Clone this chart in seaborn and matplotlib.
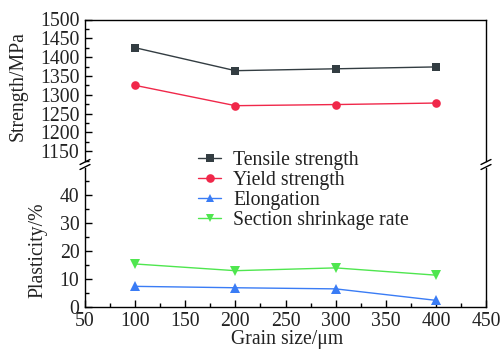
import numpy as np
import pandas as pd
import seaborn as sns
import matplotlib
matplotlib.use("Agg")
import matplotlib.pyplot as plt
from matplotlib.lines import Line2D
from matplotlib.ticker import MultipleLocator

grain_size = [100, 200, 300, 400]
tensile = [1425, 1364, 1369, 1374]
yield_s = [1325, 1271, 1274, 1278]
elongation = [7.2, 6.7, 6.3, 2.2]
shrinkage = [15.2, 12.8, 13.8, 11.2]

labels = ["Tensile strength", "Yield strength", "Elongation", "Section shrinkage rate"]
colors = ["#333d42", "#f0284a", "#3a7cf5", "#4fe64f"]
markers = ["s", "o", "^", "v"]

sns.set_theme(style="white")
plt.rcParams["font.family"] = ["Liberation Serif", "DejaVu Serif"]

W, H = 503, 349
fig = plt.figure(figsize=(W / 100, H / 100), dpi=100)

def fx(px):
    return px / W

def fy(py):
    return 1 - py / H

left, right = 85, 486
top_top, top_bot = 19.5, 161
bot_top, bot_bot = 168, 306.5
FS = 14.2

ax1 = fig.add_axes([fx(left), fy(top_bot), fx(right - left), (top_bot - top_top) / H])
ax2 = fig.add_axes([fx(left), fy(bot_bot), fx(right - left), (bot_bot - bot_top) / H])

top_df = pd.DataFrame({"x": grain_size * 2, "y": tensile + yield_s,
                       "s": [labels[0]] * 4 + [labels[1]] * 4})
bot_df = pd.DataFrame({"x": grain_size * 2, "y": elongation + shrinkage,
                       "s": [labels[2]] * 4 + [labels[3]] * 4})

sns.lineplot(data=top_df, x="x", y="y", hue="s", style="s",
             palette=colors[:2], markers=markers[:2], dashes=False,
             markersize=6.2, markeredgewidth=0, linewidth=1.0, ax=ax1, legend=False)
sns.lineplot(data=bot_df, x="x", y="y", hue="s", style="s",
             palette=colors[2:], markers=markers[2:], dashes=False,
             markersize=6.8, markeredgewidth=0, linewidth=1.0, ax=ax2, legend=False)

for ax in (ax1, ax2):
    ax.set_xlim(50, 450)
    ax.set_xlabel("")
    ax.set_ylabel("")
    for sp in ax.spines.values():
        sp.set_color("black")
        sp.set_linewidth(1.0)
    ax.xaxis.set_major_locator(MultipleLocator(50))
    ax.xaxis.set_minor_locator(MultipleLocator(25))
    ax.tick_params(axis="both", which="both", direction="in", color="black",
                   labelsize=FS, labelcolor="#222222")
    ax.tick_params(which="major", length=5, width=1.0, left=True, bottom=True)
    ax.tick_params(which="minor", length=3, width=1.0, left=True, bottom=True)
    ax.tick_params(axis="y", pad=4)
    ax.tick_params(axis="x", pad=4)

ax1.set_ylim(1124, 1500)
ax1.yaxis.set_minor_locator(MultipleLocator(25))
ax1.set_yticks([1150, 1200, 1250, 1300, 1350, 1400, 1450, 1500])
ax1.spines["bottom"].set_visible(False)
ax1.tick_params(axis="x", which="both", bottom=False, labelbottom=False)

ax2.set_ylim(0, 49.5)
ax2.set_yticks([0, 10, 20, 30, 40])
ax2.yaxis.set_minor_locator(MultipleLocator(5))
ax2.spines["top"].set_visible(False)
ax2.set_xticks([50, 100, 150, 200, 250, 300, 350, 400, 450])

# break marks
for xpx in (left, right):
    for dy in (-2.5, 2.5):
        yc = (top_bot + bot_top) / 2 + dy
        fig.add_artist(Line2D([fx(xpx - 5), fx(xpx + 5)], [fy(yc + 2.5), fy(yc - 2.5)],
                              color="black", linewidth=1.0))

fig.text(fx(18), fy(86), "Strength/MPa", rotation=90, ha="center", va="center",
         fontsize=FS, color="#222222")
fig.text(fx(38), fy(250), "Plasticity/%", rotation=90, ha="center", va="center",
         fontsize=FS, color="#222222")
fig.text(fx(287), fy(344), "Grain size/\u03bcm", ha="center", va="baseline",
         fontsize=FS, color="#222222")

handles = [Line2D([], [], color=c, marker=m, markersize=6.2, markeredgewidth=0,
                  linewidth=1.0) for c, m in zip(colors, markers)]
fig.legend(handles, labels, loc="upper left",
           bbox_to_anchor=(fx(184), fy(137)), frameon=False, fontsize=FS,
           handlelength=1.2, handletextpad=0.6, labelspacing=0.05,
           borderpad=0.2, labelcolor="#222222")

fig.savefig("out.png", dpi=100)
